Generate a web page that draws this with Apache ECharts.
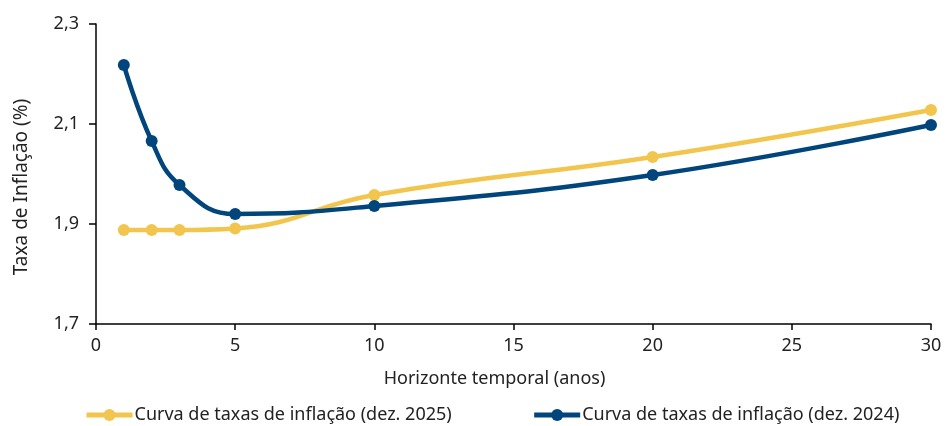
<!DOCTYPE html>
<html><head><meta charset="utf-8">
<script src="https://cdn.jsdelivr.net/npm/echarts@6/dist/echarts.min.js"></script>
<style>html,body{margin:0;padding:0;background:#fff}#c{width:948px;height:426px}</style>
</head><body><div id="c"></div>
<script>
const years = [1, 2, 3, 5, 10, 20, 30];
const dez2025 = [1.888, 1.888, 1.888, 1.891, 1.958, 2.034, 2.128];
const dez2024 = [2.218, 2.066, 1.978, 1.920, 1.936, 1.998, 2.098];
const name2025 = 'Curva de taxas de inflação (dez. 2025)';
const name2024 = 'Curva de taxas de inflação (dez. 2024)';
const font = '"Noto Sans", "Open Sans", sans-serif';
const chart = echarts.init(document.getElementById('c'));
const fmt = v => v.toFixed(1).replace('.', ',');
chart.setOption({
  animation: false,
  textStyle: {fontFamily: font},
  grid: {left: 96, right: 17, top: 24, bottom: 102},
  legend: {
    bottom: 2, left: 84, padding: 0, itemWidth: 46, itemHeight: 15, itemGap: 80,
    textStyle: {fontSize: 18, color: '#222', fontFamily: font, padding: [0, 0, 0, -3]},
    lineStyle: {width: 5},
    data: [name2025, name2024]
  },
  xAxis: {
    type: 'value', min: 0, max: 30, interval: 5,
    name: 'Horizonte temporal (anos)', nameLocation: 'middle', nameGap: 46,
    nameTextStyle: {fontSize: 18, color: '#222', padding: [0, 38, 0, 0]},
    axisLine: {lineStyle: {color: '#000', width: 1.5}},
    axisTick: {show: true, length: 6, lineStyle: {color: '#000', width: 1.5}},
    axisLabel: {fontSize: 18, color: '#222', margin: 13},
    splitLine: {show: false}
  },
  yAxis: {
    type: 'value', min: 1.7, max: 2.3, interval: 0.2,
    name: 'Taxa de Inflação (%)', nameLocation: 'middle', nameGap: 65, nameRotate: 90,
    nameTextStyle: {fontSize: 19, color: '#222', padding: [0, 26, 0, 0]},
    axisLine: {show: true, lineStyle: {color: '#000', width: 1.5}},
    axisTick: {show: true, length: 7, lineStyle: {color: '#000', width: 1.5}},
    axisLabel: {fontSize: 18, color: '#222', margin: 17, formatter: fmt},
    splitLine: {show: false}
  },
  series: [
    {name: name2025, type: 'line', smooth: 0.45, symbol: 'circle', symbolSize: 12,
     data: years.map((x, i) => [x, dez2025[i]]),
     lineStyle: {color: '#F2C64E', width: 4.5}, itemStyle: {color: '#F2C64E'}},
    {name: name2024, type: 'line', smooth: 0.45, symbol: 'circle', symbolSize: 12,
     data: years.map((x, i) => [x, dez2024[i]]),
     lineStyle: {color: '#00457C', width: 4.5}, itemStyle: {color: '#00457C'}}
  ]
});
</script></body></html>
